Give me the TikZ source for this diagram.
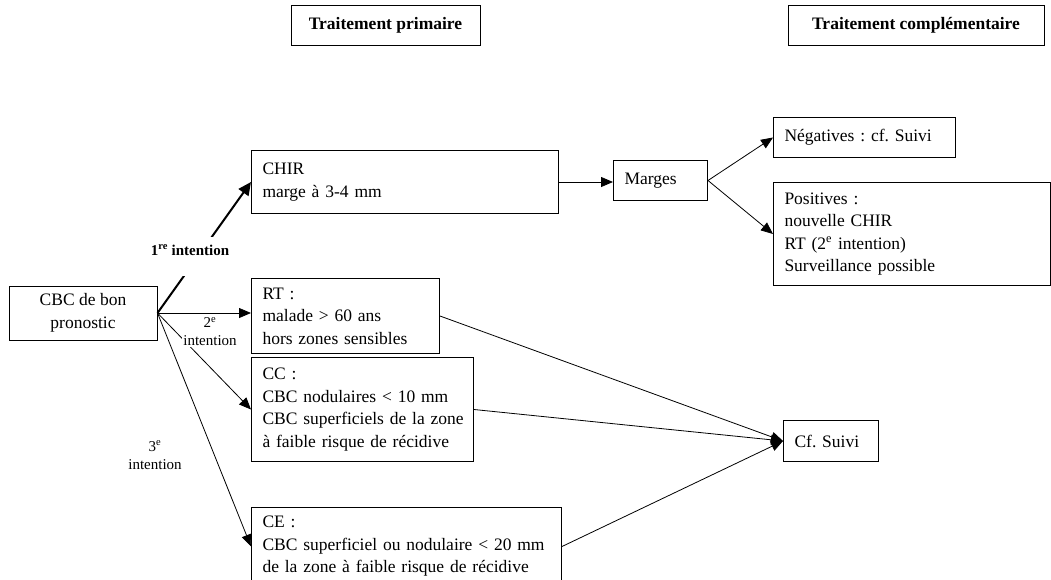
\documentclass[tikz,border=0pt]{standalone}
\usepackage{fontspec}
\setmainfont{Liberation Serif}
\usetikzlibrary{arrows.meta}
\frenchspacing

\begin{document}
\begin{tikzpicture}[x=1pt, y=-1pt,
    every node/.style={font=\fontsize{17.5}{22.5}\selectfont},
    headbox/.style={rectangle, draw, line width=1pt, minimum height=40pt,
        font=\fontsize{17.5}{22.5}\selectfont\bfseries},
    txtbox/.style={rectangle, draw, line width=1pt, anchor=north west,
        align=left, inner xsep=11pt, inner ysep=0pt},
    lbl/.style={font=\fontsize{15}{18}\selectfont, align=center, inner sep=1pt},
    arr/.style={line width=0.8pt, -{Triangle[length=12pt, width=10pt]}},
    thk/.style={line width=2pt, -{Triangle[length=13pt, width=12pt]}}]
\useasboundingbox (0,0) rectangle (1051,579);

% titres des colonnes
\node[headbox, minimum width=189pt] (prim) at (385.5,25) {Traitement primaire};
\node[headbox, minimum width=256pt] (compl) at (916,25) {Traitement complémentaire};

% point de depart
\node[rectangle, draw, line width=1pt, align=center, minimum width=148pt,
    minimum height=54pt] (cbc) at (83,313) {CBC de bon\\pronostic};

% traitement primaire
\node[txtbox, text width=285pt, minimum height=63pt] (chir) at (251,150)
    {CHIR\\marge à 3-4 mm};
\node[txtbox, text width=166pt, minimum height=75pt] (rt) at (251,278)
    {RT :\\malade > 60 ans\\hors zones sensibles};
\node[txtbox, text width=200pt, minimum height=104pt] (cc) at (251,357)
    {CC :\\\mbox{CBC nodulaires < 10 mm}\\\mbox{CBC superficiels de la zone}\\\mbox{à faible risque de récidive}};
\node[txtbox, text width=288pt, minimum height=78pt] (ce) at (251,507)
    {CE :\\\mbox{CBC superficiel ou nodulaire < 20 mm}\\\mbox{de la zone à faible risque de récidive}};

% traitement complementaire
\node[txtbox, text width=72pt, minimum height=40pt] (marges) at (613,160) {Marges};
\node[txtbox, text width=160pt, minimum height=40pt] (neg) at (773,117)
    {Négatives : cf. Suivi};
\node[txtbox, text width=255pt, minimum height=103pt] (pos) at (773,182)
    {Positives :\\nouvelle CHIR\\RT (2\textsuperscript{e} intention)\\Surveillance possible};
\node[txtbox, text width=73pt, minimum height=41pt] (suivi) at (783,420) {Cf. Suivi};

% fleches
\draw[thk] (cbc.east) -- (chir.west);
\draw[arr] (cbc.east) -- (cbc.east -| rt.west);
\draw[arr] (cbc.east) -- (cc.west);
\draw[arr] (cbc.east) -- (ce.west);
\draw[arr] (chir.east) -- (chir.east -| marges.west);
\draw[arr] (marges.east) -- (neg.west);
\draw[arr] (marges.east) -- (pos.west);
\draw[arr] (rt.east) -- (suivi.west);
\draw[arr] (cc.east) -- (suivi.west);
\draw[arr] (ce.east) -- (suivi.west);

% intentions
\node[lbl, fill=white, anchor=base, text height=17pt, text depth=20pt,
    font=\fontsize{15}{18}\selectfont\bfseries] (int1) at (190,255)
    {1\textsuperscript{re} intention};
\node[lbl, fill=white, anchor=north] (int2) at (210,316)
    {2\textsuperscript{e}\\intention};
\node[lbl] (int3) at (155,455) {3\textsuperscript{e}\\intention};
\end{tikzpicture}
\end{document}
